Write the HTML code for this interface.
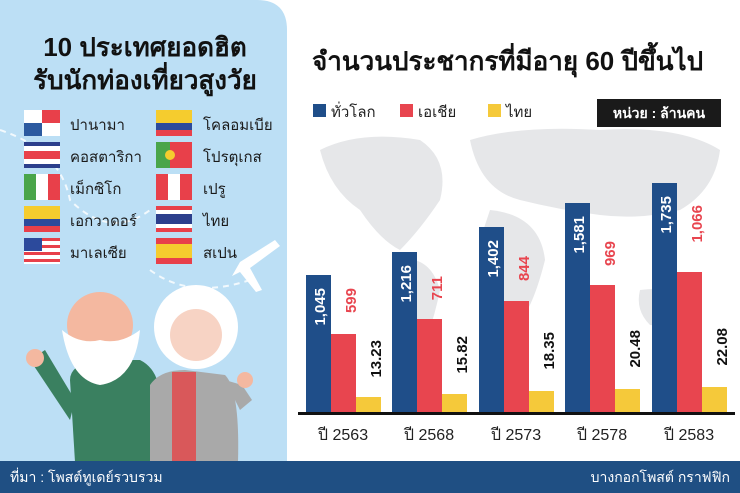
<!DOCTYPE html>
<html><head><meta charset="utf-8"><style>
html,body{margin:0;padding:0;background:#fff;}
svg{display:block;}
text{font-family:"Liberation Sans","Noto Sans CJK SC",sans-serif;}
</style></head><body>
<svg width="740" height="493" viewBox="0 0 740 493" xmlns="http://www.w3.org/2000/svg">
<rect width="740" height="493" fill="#fff"/>
<g fill="#e6e7e9">
<path d="M320 150 Q360 130 420 140 Q450 160 440 200 Q420 230 400 250 Q380 240 360 210 Q330 190 320 150Z"/>
<path d="M400 260 Q430 255 440 290 Q430 340 410 370 Q395 330 400 260Z"/>
<path d="M470 140 Q520 125 600 130 Q680 125 720 150 Q715 190 680 210 Q640 220 600 215 Q560 210 520 200 Q480 190 470 140Z"/>
<path d="M490 210 Q540 215 545 260 Q530 320 510 330 Q490 290 480 240Z"/>
<path d="M640 290 Q680 285 700 305 Q690 330 650 325 Q635 310 640 290Z"/>
</g>
<path d="M0 0 H257 Q287 0 287 30 V462 H0Z" fill="#bcdff5"/>
<g stroke="#fff" stroke-width="2" stroke-dasharray="6 5" fill="none" opacity="0.8">
<path d="M0 130 Q60 150 70 200 Q110 240 150 210"/>
<path d="M150 270 Q190 300 250 280"/>
</g>
<path d="M240 262 L275 240 L280 246 L250 268 L262 290 L256 292 L240 272 L232 276 Z" fill="#fff"/>
<text x="145" y="56" font-size="26" font-weight="bold" text-anchor="middle" fill="#111">10 ประเทศยอดฮิต</text>
<text x="145" y="89" font-size="26" font-weight="bold" text-anchor="middle" fill="#111">รับนักท่องเที่ยวสูงวัย</text>
<g>
<rect x="24" y="110" width="36" height="26" fill="#fff"/><rect x="42" y="110" width="18" height="13" fill="#e8404a"/><rect x="24" y="123" width="18" height="13" fill="#2c5aa0"/>
<rect x="24" y="142" width="36" height="26" fill="#2c3f8c"/><rect x="24" y="146" width="36" height="18" fill="#fff"/><rect x="24" y="151" width="36" height="8" fill="#e8404a"/>
<rect x="24" y="174" width="12" height="26" fill="#4aa54a"/><rect x="36" y="174" width="12" height="26" fill="#fff"/><rect x="48" y="174" width="12" height="26" fill="#e8404a"/>
<rect x="24" y="206" width="36" height="13" fill="#f5cc2e"/><rect x="24" y="219" width="36" height="7" fill="#2c4a9c"/><rect x="24" y="226" width="36" height="6" fill="#e8404a"/>
<rect x="24" y="238" width="36" height="26" fill="#fff"/><rect x="24" y="238" width="36" height="3" fill="#e8404a"/><rect x="24" y="245" width="36" height="3" fill="#e8404a"/><rect x="24" y="252" width="36" height="3" fill="#e8404a"/><rect x="24" y="259" width="36" height="3" fill="#e8404a"/><rect x="24" y="238" width="18" height="13" fill="#2c4a9c"/>
</g>
<g font-size="15" fill="#1a1a1a">
<text x="70" y="130">ปานามา</text><text x="70" y="162">คอสตาริกา</text><text x="70" y="194">เม็กซิโก</text><text x="70" y="226">เอกวาดอร์</text><text x="70" y="258">มาเลเซีย</text>
<text x="203" y="130">โคลอมเบีย</text><text x="203" y="162">โปรตุเกส</text><text x="203" y="194">เปรู</text><text x="203" y="226">ไทย</text><text x="203" y="258">สเปน</text>
</g>
<g>
<rect x="156" y="110" width="36" height="13" fill="#f5cc2e"/><rect x="156" y="123" width="36" height="7" fill="#2c4a9c"/><rect x="156" y="130" width="36" height="6" fill="#e8404a"/>
<rect x="156" y="142" width="14" height="26" fill="#4aa54a"/><rect x="170" y="142" width="22" height="26" fill="#e8404a"/><circle cx="170" cy="155" r="5" fill="#f5cc2e"/>
<rect x="156" y="174" width="12" height="26" fill="#e8404a"/><rect x="168" y="174" width="12" height="26" fill="#fff"/><rect x="180" y="174" width="12" height="26" fill="#e8404a"/>
<rect x="156" y="206" width="36" height="26" fill="#e8404a"/><rect x="156" y="210" width="36" height="18" fill="#fff"/><rect x="156" y="214" width="36" height="10" fill="#2c3f8c"/>
<rect x="156" y="238" width="36" height="26" fill="#e8404a"/><rect x="156" y="244" width="36" height="14" fill="#f5cc2e"/>
</g>
<path d="M70 380 Q70 365 95 360 L140 360 Q160 370 160 400 L160 462 H75 Z" fill="#3a8060"/>
<path d="M30 360 L45 350 L75 400 L70 420 Z" fill="#3a8060"/>
<circle cx="35" cy="358" r="9" fill="#f4b8a0"/>
<path d="M150 385 Q160 370 185 370 L225 375 Q240 390 238 462 H150 Z" fill="#a9a9a9"/>
<rect x="172" y="372" width="24" height="90" fill="#d9585a"/>
<path d="M225 380 L242 385 L252 400 L240 410 Z" fill="#a9a9a9"/>
<circle cx="245" cy="380" r="8" fill="#f4b8a0"/>
<circle cx="100" cy="325" r="33" fill="#f4b8a0"/>
<path d="M62 330 Q70 380 100 385 Q135 380 140 330 Q120 345 100 340 Q80 345 62 330Z" fill="#fff"/>
<circle cx="196" cy="327" r="42" fill="#fff"/>
<circle cx="196" cy="335" r="26" fill="#f7d3c4"/>
<text x="312" y="70" font-size="26" font-weight="bold" fill="#111">จำนวนประชากรที่มีอายุ 60 ปีขึ้นไป</text>
<rect x="313" y="104" width="13" height="13" fill="#1f4e89"/><text x="331" y="117" font-size="15" fill="#222">ทั่วโลก</text>
<rect x="400" y="104" width="13" height="13" fill="#e8454f"/><text x="418" y="117" font-size="15" fill="#222">เอเชีย</text>
<rect x="488" y="104" width="13" height="13" fill="#f5c93a"/><text x="506" y="117" font-size="15" fill="#222">ไทย</text>
<rect x="597" y="99" width="124" height="28" fill="#1a1a1a"/><text x="659" y="118" font-size="14" fill="#fff" text-anchor="middle" font-weight="bold">หน่วย : ล้านคน</text>
<g>
<rect x="306" y="275" width="25" height="138" fill="#1f4e89"/><rect x="331" y="334" width="25" height="79" fill="#e8454f"/><rect x="356" y="397" width="25" height="16" fill="#f5c93a"/>
<rect x="392" y="252" width="25" height="161" fill="#1f4e89"/><rect x="417" y="319" width="25" height="94" fill="#e8454f"/><rect x="442" y="394" width="25" height="19" fill="#f5c93a"/>
<rect x="479" y="227" width="25" height="186" fill="#1f4e89"/><rect x="504" y="301" width="25" height="112" fill="#e8454f"/><rect x="529" y="391" width="25" height="22" fill="#f5c93a"/>
<rect x="565" y="203" width="25" height="210" fill="#1f4e89"/><rect x="590" y="285" width="25" height="128" fill="#e8454f"/><rect x="615" y="389" width="25" height="24" fill="#f5c93a"/>
<rect x="652" y="183" width="25" height="230" fill="#1f4e89"/><rect x="677" y="272" width="25" height="141" fill="#e8454f"/><rect x="702" y="387" width="25" height="26" fill="#f5c93a"/>
</g>
<rect x="298" y="412" width="437" height="3" fill="#111"/>
<g font-size="15" font-weight="bold">
<text transform="translate(325,288) rotate(-90)" text-anchor="end" fill="#fff">1,045</text>
<text transform="translate(356,288) rotate(-90)" text-anchor="end" fill="#e8454f">599</text>
<text transform="translate(381,340) rotate(-90)" text-anchor="end" fill="#111">13.23</text>
<text transform="translate(411,265) rotate(-90)" text-anchor="end" fill="#fff">1,216</text>
<text transform="translate(442,276) rotate(-90)" text-anchor="end" fill="#e8454f">711</text>
<text transform="translate(467,336) rotate(-90)" text-anchor="end" fill="#111">15.82</text>
<text transform="translate(498,240) rotate(-90)" text-anchor="end" fill="#fff">1,402</text>
<text transform="translate(529,256) rotate(-90)" text-anchor="end" fill="#e8454f">844</text>
<text transform="translate(554,332) rotate(-90)" text-anchor="end" fill="#111">18.35</text>
<text transform="translate(584,216) rotate(-90)" text-anchor="end" fill="#fff">1,581</text>
<text transform="translate(615,241) rotate(-90)" text-anchor="end" fill="#e8454f">969</text>
<text transform="translate(640,330) rotate(-90)" text-anchor="end" fill="#111">20.48</text>
<text transform="translate(671,196) rotate(-90)" text-anchor="end" fill="#fff">1,735</text>
<text transform="translate(702,205) rotate(-90)" text-anchor="end" fill="#e8454f">1,066</text>
<text transform="translate(727,328) rotate(-90)" text-anchor="end" fill="#111">22.08</text>
</g>
<g font-size="16" fill="#222" text-anchor="middle">
<text x="343" y="440">ปี 2563</text><text x="429" y="440">ปี 2568</text><text x="516" y="440">ปี 2573</text><text x="602" y="440">ปี 2578</text><text x="689" y="440">ปี 2583</text>
</g>
<rect x="0" y="461" width="740" height="32" fill="#1f4f83"/>
<text x="10" y="482" font-size="14" fill="#fff">ที่มา : โพสต์ทูเดย์รวบรวม</text>
<text x="730" y="482" font-size="14" fill="#fff" text-anchor="end">บางกอกโพสต์ กราฟฟิก</text>
</svg>
</body></html>
